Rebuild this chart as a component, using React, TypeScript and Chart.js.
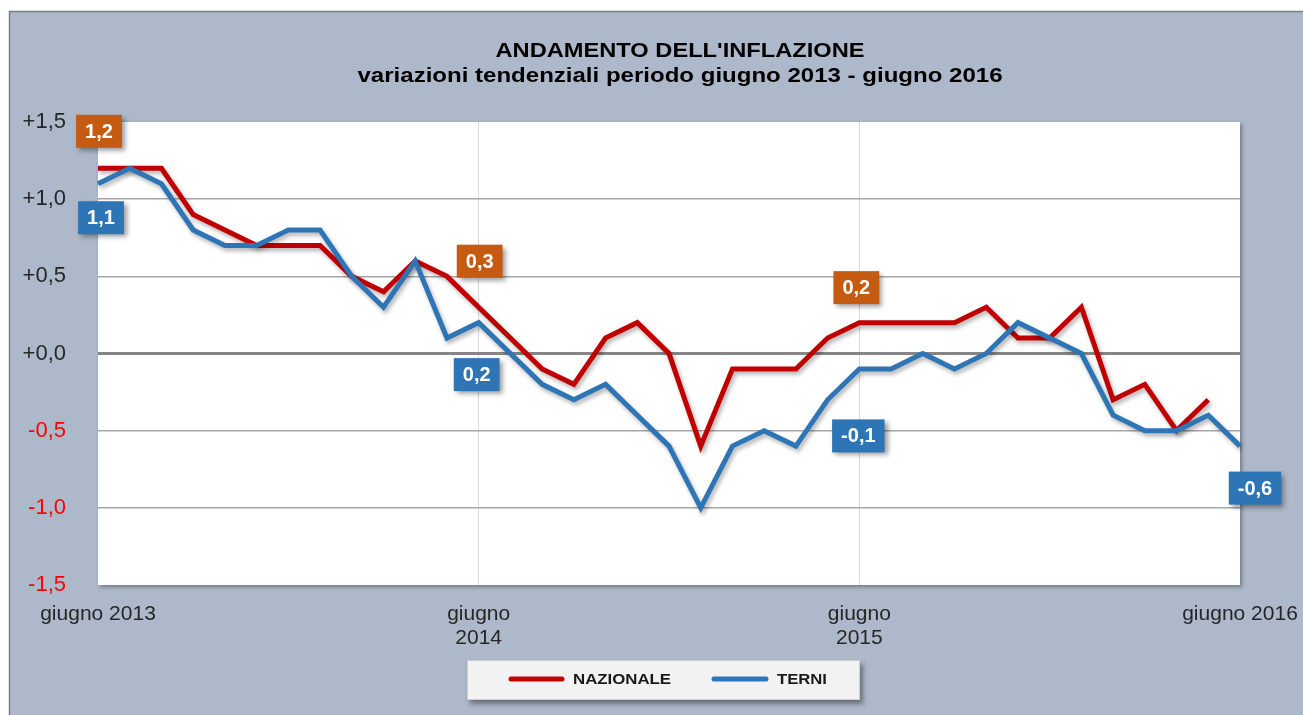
import React, { useEffect, useRef } from "react";
import { Chart, registerables } from "chart.js";

Chart.register(...registerables);

const MONTHS = [
  "giu 2013", "lug 2013", "ago 2013", "set 2013", "ott 2013", "nov 2013", "dic 2013",
  "gen 2014", "feb 2014", "mar 2014", "apr 2014", "mag 2014", "giu 2014", "lug 2014",
  "ago 2014", "set 2014", "ott 2014", "nov 2014", "dic 2014", "gen 2015", "feb 2015",
  "mar 2015", "apr 2015", "mag 2015", "giu 2015", "lug 2015", "ago 2015", "set 2015",
  "ott 2015", "nov 2015", "dic 2015", "gen 2016", "feb 2016", "mar 2016", "apr 2016",
  "mag 2016", "giu 2016",
];

const NAZIONALE = [
  1.2, 1.2, 1.2, 0.9, 0.8, 0.7, 0.7, 0.7, 0.5, 0.4, 0.6, 0.5,
  0.3, 0.1, -0.1, -0.2, 0.1, 0.2, 0.0, -0.6, -0.1, -0.1, -0.1, 0.1,
  0.2, 0.2, 0.2, 0.2, 0.3, 0.1, 0.1, 0.3, -0.3, -0.2, -0.5, -0.3, null,
];

const TERNI = [
  1.1, 1.2, 1.1, 0.8, 0.7, 0.7, 0.8, 0.8, 0.5, 0.3, 0.6, 0.1,
  0.2, 0.0, -0.2, -0.3, -0.2, -0.4, -0.6, -1.0, -0.6, -0.5, -0.6, -0.3,
  -0.1, -0.1, 0.0, -0.1, 0.0, 0.2, 0.1, 0.0, -0.4, -0.5, -0.5, -0.4, -0.6,
];

const SERIES_NAMES = ["NAZIONALE", "TERNI"];
const TICK_INDEX = [0, 12, 24, 36];
const TICK_TEXT: (string | string[])[] = ["giugno 2013", ["giugno", "2014"], ["giugno", "2015"], "giugno 2016"];
const TITLE = "ANDAMENTO DELL'INFLAZIONE";
const SUBTITLE = "variazioni tendenziali periodo giugno 2013 - giugno 2016";
const Y_MIN = -1.5;
const Y_MAX = 1.5;
const Y_STEP = 0.5;

// annotated points: series index, data index, box offset (px) from the point
const LABELS = [
  { s: 0, i: 0, dx: 1, dy: -37 },
  { s: 1, i: 0, dx: 3, dy: 34 },
  { s: 0, i: 12, dx: 1, dy: -46 },
  { s: 1, i: 12, dx: -2, dy: 52 },
  { s: 0, i: 24, dx: -3, dy: -35 },
  { s: 1, i: 24, dx: -1, dy: 67 },
  { s: 1, i: 36, dx: 15, dy: 42 },
];

const LINE_COLORS = ["#C00000", "#2E75B6"];
const BOX_COLORS = ["#C55A11", "#2E75B6"];
const FONT = "'Liberation Sans', Arial, sans-serif";
const W = 1303;
const H = 715;

function fmt(v: number, plus: boolean) {
  const a = Math.abs(v) < 1e-9 ? 0 : v;
  const s = a.toFixed(1).replace(".", ",");
  return plus && a >= 0 ? "+" + s : s;
}

function fitText(ctx: CanvasRenderingContext2D, text: string, x: number, y: number, width: number, font: string, color: string, align: CanvasTextAlign, baseline: CanvasTextBaseline) {
  ctx.save();
  ctx.font = font;
  const w = ctx.measureText(text).width;
  ctx.translate(x, y);
  ctx.scale(width / w, 1);
  ctx.textAlign = align;
  ctx.textBaseline = baseline;
  ctx.fillStyle = color;
  ctx.fillText(text, 0, 0);
  ctx.restore();
}

const backgroundPlugin = {
  id: "bg",
  beforeDraw(chart: any) {
    const { ctx, chartArea } = chart;
    ctx.save();
    ctx.fillStyle = "#FFFFFF";
    ctx.fillRect(0, 0, W, H);
    ctx.fillStyle = "#ADB9CA";
    ctx.fillRect(9, 11, W - 9, H - 11);
    ctx.strokeStyle = "#7F7F7F";
    ctx.lineWidth = 1.5;
    ctx.beginPath();
    ctx.moveTo(9.5, H);
    ctx.lineTo(9.5, 11.5);
    ctx.lineTo(W, 11.5);
    ctx.stroke();
    // plot area with shadow
    ctx.shadowColor = "rgba(0,0,0,0.35)";
    ctx.shadowBlur = 4;
    ctx.shadowOffsetX = 2;
    ctx.shadowOffsetY = 2;
    ctx.fillStyle = "#FFFFFF";
    ctx.fillRect(chartArea.left, chartArea.top, chartArea.right - chartArea.left, chartArea.bottom - chartArea.top);
    ctx.restore();
    // titles
    fitText(ctx, TITLE, 680, 57, 369, `bold 21px ${FONT}`, "#000000", "center", "alphabetic");
    fitText(ctx, SUBTITLE, 680, 82, 645, `bold 21px ${FONT}`, "#000000", "center", "alphabetic");
  },
};

const shadowPlugin = {
  id: "lineShadow",
  beforeDatasetDraw(chart: any) {
    const ctx = chart.ctx;
    ctx.save();
    ctx.shadowColor = "rgba(0,0,0,0.3)";
    ctx.shadowBlur = 4;
    ctx.shadowOffsetX = 2;
    ctx.shadowOffsetY = 3;
  },
  afterDatasetDraw(chart: any) {
    chart.ctx.restore();
  },
};

const labelPlugin = {
  id: "valueBoxes",
  afterDatasetsDraw(chart: any) {
    const ctx = chart.ctx;
    const data = [NAZIONALE, TERNI];
    LABELS.forEach((l) => {
      const meta = chart.getDatasetMeta(l.s);
      const pt = meta.data[l.i];
      const v = data[l.s][l.i];
      if (!pt || v === null || v === undefined) return;
      const text = fmt(v as number, false);
      ctx.save();
      ctx.font = `bold 20px ${FONT}`;
      const tw = ctx.measureText(text).width;
      const bw = tw + 18;
      const bh = 33;
      const cx = pt.x + l.dx;
      const cy = pt.y + l.dy;
      ctx.shadowColor = "rgba(0,0,0,0.4)";
      ctx.shadowBlur = 5;
      ctx.shadowOffsetX = 3;
      ctx.shadowOffsetY = 3;
      ctx.fillStyle = BOX_COLORS[l.s];
      ctx.fillRect(cx - bw / 2, cy - bh / 2, bw, bh);
      ctx.shadowColor = "transparent";
      ctx.fillStyle = "#FFFFFF";
      ctx.textAlign = "center";
      ctx.textBaseline = "middle";
      ctx.fillText(text, cx, cy + 1);
      ctx.restore();
    });
  },
};

const legendPlugin = {
  id: "customLegend",
  afterDraw(chart: any) {
    const ctx = chart.ctx;
    ctx.save();
    ctx.shadowColor = "rgba(0,0,0,0.4)";
    ctx.shadowBlur = 5;
    ctx.shadowOffsetX = 3;
    ctx.shadowOffsetY = 4;
    ctx.fillStyle = "#F2F2F2";
    ctx.fillRect(467, 660, 393, 40);
    ctx.restore();
    ctx.save();
    ctx.strokeStyle = "#D0D0D0";
    ctx.lineWidth = 1;
    ctx.strokeRect(467.5, 660.5, 392, 39);
    ctx.lineCap = "round";
    ctx.lineWidth = 5;
    ctx.strokeStyle = LINE_COLORS[0];
    ctx.beginPath();
    ctx.moveTo(511, 679);
    ctx.lineTo(562, 679);
    ctx.stroke();
    ctx.strokeStyle = LINE_COLORS[1];
    ctx.beginPath();
    ctx.moveTo(714, 679);
    ctx.lineTo(766, 679);
    ctx.stroke();
    ctx.restore();
    fitText(ctx, SERIES_NAMES[0], 573, 680, 98, `bold 15px ${FONT}`, "#1A1A1A", "left", "middle");
    fitText(ctx, SERIES_NAMES[1], 777, 680, 50, `bold 15px ${FONT}`, "#1A1A1A", "left", "middle");
  },
};

export default function App() {
  const ref = useRef<HTMLCanvasElement | null>(null);

  useEffect(() => {
    document.body.style.margin = "0";
    document.body.style.overflow = "hidden";
    const canvas = ref.current;
    if (!canvas) return;
    const chart = new Chart(canvas, {
      type: "line",
      data: {
        labels: MONTHS,
        datasets: [
          {
            label: SERIES_NAMES[0],
            data: NAZIONALE,
            borderColor: LINE_COLORS[0],
            backgroundColor: LINE_COLORS[0],
            borderWidth: 5,
            pointRadius: 0,
            tension: 0,
            order: 1,
            spanGaps: false,
          },
          {
            label: SERIES_NAMES[1],
            data: TERNI,
            borderColor: LINE_COLORS[1],
            backgroundColor: LINE_COLORS[1],
            borderWidth: 5,
            pointRadius: 0,
            tension: 0,
            order: 0,
          },
        ],
      },
      options: {
        animation: false,
        responsive: false,
        events: [],
        layout: { padding: { top: 122, right: 63, left: 0, bottom: 0 } },
        plugins: {
          legend: { display: false },
          title: { display: false },
          tooltip: { enabled: false },
        },
        scales: {
          x: {
            type: "category",
            offset: false,
            border: { display: false },
            grid: {
              drawTicks: false,
              color: (c: any) => (c.index === 12 || c.index === 24 ? "#D9D9D9" : "transparent"),
              lineWidth: 1,
            },
            ticks: {
              autoSkip: false,
              maxRotation: 0,
              minRotation: 0,
              padding: 17,
              color: "#262626",
              font: { family: FONT, size: 21, lineHeight: 1.15 },
              callback: (_v: any, i: number) => {
                const k = TICK_INDEX.indexOf(i);
                return k >= 0 ? TICK_TEXT[k] : "";
              },
            },
            afterFit: (s: any) => {
              s.height = 130;
              s.paddingLeft = 0;
              s.paddingRight = 0;
            },
          },
          y: {
            min: Y_MIN,
            max: Y_MAX,
            border: { display: false },
            grid: {
              drawTicks: false,
              color: (c: any) => {
                const v = c.tick ? c.tick.value : 0;
                if (Math.abs(v - Y_MIN) < 1e-6 || Math.abs(v - Y_MAX) < 1e-6) return "transparent";
                return Math.abs(v) < 1e-6 ? "#868686" : "#A6A6A6";
              },
              lineWidth: (c: any) => (c.tick && Math.abs(c.tick.value) < 1e-6 ? 3 : 1.5),
            },
            ticks: {
              stepSize: Y_STEP,
              padding: 32,
              font: { family: FONT, size: 22 },
              color: (c: any) => (c.tick && c.tick.value < -1e-6 ? "#FF0000" : "#262626"),
              callback: (v: any) => fmt(Number(v), true),
            },
            afterFit: (s: any) => {
              s.width = 98;
              s.paddingTop = 0;
              s.paddingBottom = 0;
            },
          },
        },
      },
      plugins: [backgroundPlugin, shadowPlugin, labelPlugin, legendPlugin],
    } as any);
    return () => chart.destroy();
  }, []);

  return (
    <div style={{ width: W, height: H }}>
      <canvas ref={ref} width={W} height={H} style={{ display: "block", width: W, height: H }} />
    </div>
  );
}
